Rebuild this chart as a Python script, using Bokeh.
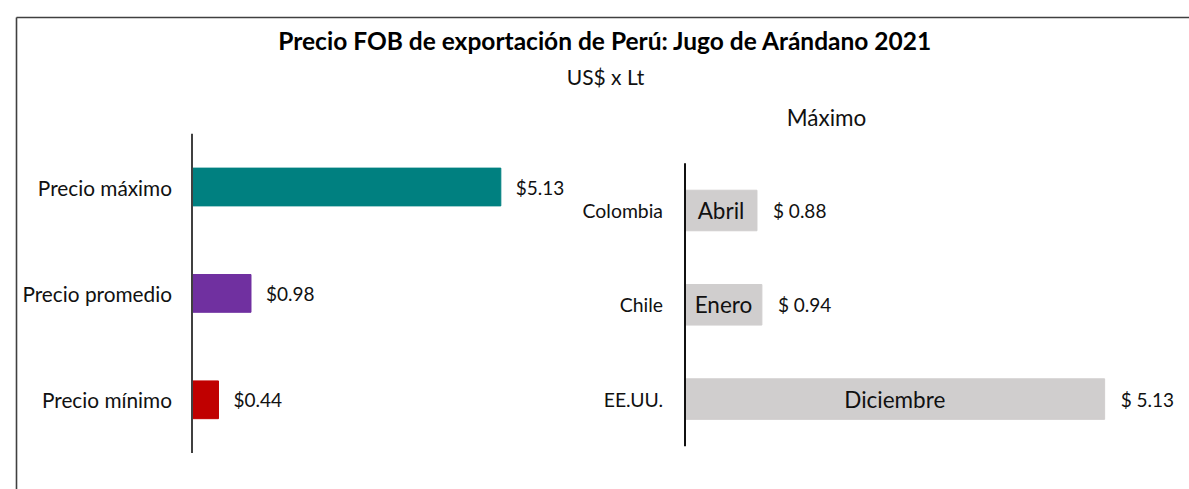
from bokeh.plotting import figure
from bokeh.models import Range1d, ColumnDataSource, Label
from bokeh.core.properties import value
from bokeh.embed import file_html
from bokeh.resources import INLINE

# ---------------- data ----------------
title_text = "Precio FOB de exportación de Perú: Jugo de Arándano 2021"
subtitle_text = "US$ x Lt"
right_title_text = "Máximo"

left_categories = ["Precio máximo", "Precio promedio", "Precio mínimo"]
left_values = [5.13, 0.98, 0.44]
left_colors = ["#008080", "#7030A0", "#C00000"]

right_categories = ["Colombia", "Chile", "EE.UU."]
right_values = [0.88, 0.94, 5.13]
right_months = ["Abril", "Enero", "Diciembre"]

# ---------------- layout (picture pixels) ----------------
W, H = 1189, 489
L_AXIS_X, L_SCALE, L_Y0, L_BAND = 191.5, 60.2, 186.5, 106.4
R_AXIS_X, R_SCALE, R_Y0, R_BAND = 684.5, 81.8, 210.0, 94.3

FONT = "Lato"
TXT = "#111111"


def lx(px):
    return (px - L_AXIS_X) / L_SCALE


def ly(py):
    return (py - L_Y0) / L_BAND


p = figure(width=W, height=H, output_backend="svg", toolbar_location=None,
           x_axis_type=None, y_axis_type=None, min_border=0,
           x_range=Range1d(lx(0), lx(W)),
           y_range=Range1d(ly(H), ly(0)))
p.extra_x_ranges = {"rx": Range1d((0 - R_AXIS_X) / R_SCALE, (W - R_AXIS_X) / R_SCALE)}
p.extra_y_ranges = {"ry": Range1d((H - R_Y0) / R_BAND, (0 - R_Y0) / R_BAND)}
p.outline_line_color = None
p.xgrid.visible = False
p.ygrid.visible = False
p.background_fill_color = "white"
p.border_fill_color = "white"

# chart border (only left and top edges are inside the picture)
p.segment(x0=[lx(16), lx(16)], y0=[ly(17), ly(17)], x1=[lx(3000), lx(16)], y1=[ly(17), ly(3000)],
          line_color="#404040", line_width=1.6)

# ---------------- left panel ----------------
lsrc = ColumnDataSource(dict(
    idx=list(range(len(left_categories))),
    cat=left_categories,
    val=left_values,
    color=left_colors,
    lab=[f"${v:.2f}" for v in left_values],
))
p.hbar(y="idx", left=0, right="val", height=0.355, color="color", source=lsrc)
p.segment(x0=0, y0=-0.5, x1=0, y1=len(left_categories) - 0.5, line_color="#404040", line_width=2)
p.text(x=0, y="idx", text="cat", source=lsrc, x_offset=-20, text_align="right",
       text_baseline="middle", text_font=value(FONT), text_font_size="20.8px", text_color=TXT)
p.text(x="val", y="idx", text="lab", source=lsrc, x_offset=15, text_align="left",
       text_baseline="middle", text_font=value(FONT), text_font_size="19px", text_color=TXT)

# ---------------- right panel ----------------
rsrc = ColumnDataSource(dict(
    idx=list(range(len(right_categories))),
    cat=right_categories,
    val=right_values,
    mid=[v / 2 for v in right_values],
    month=right_months,
    lab=[f"$ {v:.2f}" for v in right_values],
))
p.hbar(y="idx", left=0, right="val", height=0.43, color="#D0CECE", source=rsrc,
       x_range_name="rx", y_range_name="ry")
p.segment(x0=0, y0=-0.5, x1=0, y1=len(right_categories) - 0.5, line_color="#111111", line_width=2,
          x_range_name="rx", y_range_name="ry")
p.text(x=0, y="idx", text="cat", source=rsrc, x_offset=-22, text_align="right",
       text_baseline="middle", text_font=value(FONT), text_font_size="19.4px", text_color=TXT,
       x_range_name="rx", y_range_name="ry")
p.text(x="mid", y="idx", text="month", source=rsrc, text_align="center",
       text_baseline="middle", text_font=value(FONT), text_font_size="22.5px", text_color=TXT,
       x_range_name="rx", y_range_name="ry")
p.text(x="val", y="idx", text="lab", source=rsrc, x_offset=16, text_align="left",
       text_baseline="middle", text_font=value(FONT), text_font_size="19px", text_color=TXT,
       x_range_name="rx", y_range_name="ry")

# ---------------- titles ----------------
p.add_layout(Label(x=lx(605), y=ly(40), text=title_text, text_align="center", text_baseline="middle",
                   text_font=FONT, text_font_style="bold", text_font_size="24.5px", text_color="#000000"))
p.add_layout(Label(x=lx(605), y=ly(76), text=subtitle_text, text_align="center", text_baseline="middle",
                   text_font=FONT, text_font_size="21px", text_color=TXT))
p.add_layout(Label(x=lx(826), y=ly(117), text=right_title_text, text_align="center", text_baseline="middle",
                   text_font=FONT, text_font_size="22.5px", text_color=TXT))

open("out.html", "w").write(file_html(p, INLINE))
